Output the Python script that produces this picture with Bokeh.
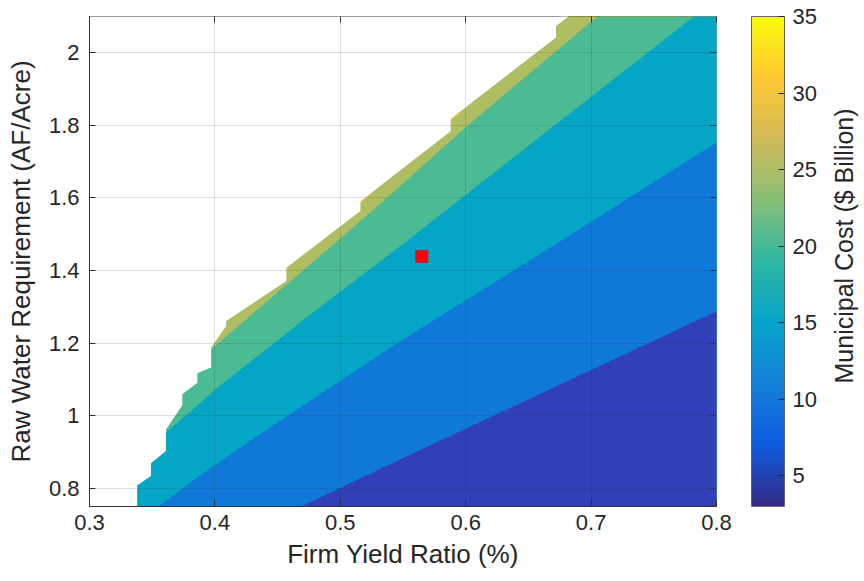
import numpy as np
from bokeh.plotting import figure
from bokeh.layouts import row
from bokeh.models import (Range1d, FixedTicker, CustomJSTickFormatter, LinearAxis, ColorBar,
                          LinearColorMapper, ColumnDataSource, Title)
from bokeh.embed import file_html
from bokeh.resources import INLINE

# ---------------- data ----------------
x_ticks = [0.3, 0.4, 0.5, 0.6, 0.7, 0.8]
y_ticks = [0.8, 1.0, 1.2, 1.4, 1.6, 1.8, 2.0]
cbar_ticks = [5, 10, 15, 20, 25, 30, 35]
x_lim = [0.3, 0.8]
y_lim = [0.75, 2.1]
cost_lim = [3, 35]

# contour levels ($ Billion) and the fill colour of each band
levels = [5, 10, 15, 20, 25, 30]
level_colors = ["#3240B7", "#1078D8", "#05A6C5", "#4CBB93", "#B0BE63", "#F5B43A"]

# left edge of the feasible region (beyond it: no solution)
frontier_x = [0.338, 0.338, 0.349, 0.349, 0.361, 0.361, 0.374, 0.374, 0.386, 0.386, 0.397, 0.397,
              0.409, 0.409, 0.457, 0.457, 0.516, 0.516, 0.588, 0.588, 0.672, 0.672, 0.682]
frontier_y = [0.750, 0.808, 0.834, 0.869, 0.903, 0.962, 1.029, 1.059, 1.091, 1.117, 1.133, 1.188,
              1.247, 1.261, 1.371, 1.408, 1.564, 1.591, 1.784, 1.818, 2.042, 2.074, 2.100]

# contour lines (lower edge of each band)
c10_x = [0.469, 0.548, 0.800]
c10_y = [0.750, 0.880, 1.288]
c15_x = [0.355, 0.390, 0.430, 0.548, 0.678, 0.800]
c15_y = [0.750, 0.840, 0.935, 1.206, 1.486, 1.753]
c20_x = [0.361, 0.4005, 0.476, 0.548, 0.782]
c20_y = [0.953, 1.073, 1.279, 1.468, 2.100]
c25_x = [0.397, 0.527, 0.604, 0.705]
c25_y = [1.183, 1.569, 1.807, 2.100]
c30_x = [0.400, 0.457, 0.516, 0.588, 0.672, 0.700]
c30_y = [1.250, 1.415, 1.585, 1.810, 2.085, 2.200]

# selected design point
opt_x = [0.565]
opt_y = [1.439]

# parula colormap anchors for the colour bar
parula_anchors = ["#352a87", "#0f5cdd", "#1481d6", "#06a4ca", "#2eb7a4",
                  "#87bf77", "#d1bb59", "#fec832", "#f9fb0e"]

# ---------------- build ----------------
def hex2rgb(h):
    h = h.lstrip("#")
    return [int(h[i:i + 2], 16) for i in (0, 2, 4)]

anc = np.array([hex2rgb(c) for c in parula_anchors], dtype=float)
t_anc = np.linspace(0, 1, len(parula_anchors))
t = np.linspace(0, 1, 256)
palette = ["#%02x%02x%02x" % tuple(int(round(np.interp(tt, t_anc, anc[:, k]))) for k in range(3)) for tt in t]

lo_x, hi_x = x_lim[0] - 0.1, x_lim[1] + 0.1
lo_y, hi_y = y_lim[0] - 0.15, y_lim[1] + 0.2

def below(xs, ys):
    return list(xs) + [hi_x, hi_x, lo_x], list(ys) + [ys[-1], lo_y, lo_y]

color_of = dict(zip(levels, level_colors))
edges = [(30, frontier_x, frontier_y), (25, c30_x, c30_y), (20, c25_x, c25_y),
         (15, c20_x, c20_y), (10, c15_x, c15_y), (5, c10_x, c10_y)]
xs, ys, cols = [], [], []
for lev, ex, ey in edges:
    px, py = below(ex, ey)
    xs.append(px); ys.append(py); cols.append(color_of[lev])
# infeasible area (white)
xs.append(list(frontier_x) + [frontier_x[-1], lo_x, lo_x, frontier_x[0]])
ys.append(list(frontier_y) + [hi_y, hi_y, lo_y, lo_y])
cols.append("#FFFFFF")
src = ColumnDataSource(dict(xs=xs, ys=ys, color=cols))

FONT = "Liberation Sans"
TXT = "#262626"
TICK_FS = "22px"
LAB_FS = "26px"
fmt = CustomJSTickFormatter(code="return tick.toFixed(1).replace(/\\.0$/, '')")
empty = CustomJSTickFormatter(code="return ''")

P_W = 820
p = figure(width=P_W, height=581, x_range=Range1d(*x_lim), y_range=Range1d(*y_lim),
           output_backend="svg", toolbar_location=None,
           min_border_left=89, min_border_right=P_W - 716, min_border_top=16, min_border_bottom=75,
           x_axis_label="Firm Yield Ratio (%)", y_axis_label="Raw Water Requirement (AF/Acre)")
p.background_fill_color = "white"
p.border_fill_color = "white"
p.outline_line_color = "#333333"
p.outline_line_width = 1

p.patches("xs", "ys", source=src, fill_color="color", line_color=None)
p.scatter(opt_x, opt_y, marker="square", size=12, fill_color="#FF0000", line_color="#B8203C", line_width=1)

for ax, tk in ((p.xaxis[0], x_ticks), (p.yaxis[0], y_ticks)):
    ax.ticker = FixedTicker(ticks=tk)
    ax.formatter = fmt
    ax.major_tick_in = 6
    ax.major_tick_out = 0
    ax.minor_tick_out = 0
    ax.minor_tick_line_color = None
    ax.axis_line_color = "#333333"
    ax.major_tick_line_color = "#333333"
    ax.major_label_text_font = FONT
    ax.major_label_text_font_size = TICK_FS
    ax.major_label_text_color = TXT
    ax.axis_label_text_font = FONT
    ax.axis_label_text_font_size = LAB_FS
    ax.axis_label_text_font_style = "normal"
    ax.axis_label_text_color = TXT
p.xaxis[0].major_label_standoff = 8
p.xaxis[0].axis_label_standoff = 6
p.yaxis[0].major_label_standoff = 10
p.yaxis[0].axis_label_standoff = 10

for loc, tk in (("above", x_ticks), ("right", y_ticks)):
    ax = LinearAxis(ticker=FixedTicker(ticks=tk), formatter=empty, major_tick_in=6, major_tick_out=0,
                    minor_tick_out=0, minor_tick_in=0,
                    minor_tick_line_color=None, axis_line_color=None, major_tick_line_color="#333333",
                    major_label_text_font_size="1px", major_label_standoff=0)
    p.add_layout(ax, loc)

p.grid.grid_line_color = "#262626"
p.grid.grid_line_alpha = 0.15
p.grid.level = "overlay"
p.xgrid.ticker = FixedTicker(ticks=x_ticks)
p.ygrid.ticker = FixedTicker(ticks=y_ticks)

mapper = LinearColorMapper(palette=palette, low=cost_lim[0], high=cost_lim[1])
cb = ColorBar(color_mapper=mapper, ticker=FixedTicker(ticks=cbar_ticks), formatter=fmt,
              width=33, height=490, location=(35, 0), padding=0, margin=0,
              bar_line_color="#666666", bar_line_width=1,
              major_tick_line_color="#262626", major_tick_in=6, major_tick_out=0,
              minor_tick_line_color=None, label_standoff=8,
              major_label_text_font=FONT, major_label_text_font_size=TICK_FS,
              major_label_text_color=TXT, background_fill_color=None, border_line_color=None)
p.add_layout(cb, "right")

# narrow companion figure that carries the colour-bar title (left title reads bottom-to-top)
R_W = 864 - P_W
r = figure(width=R_W, height=581, x_range=Range1d(0, 1), y_range=Range1d(0, 1),
           output_backend="svg", toolbar_location=None, x_axis_location=None, y_axis_location=None,
           min_border_left=R_W - 7, min_border_right=7, min_border_top=16, min_border_bottom=75)
r.outline_line_color = None
r.grid.visible = False
r.background_fill_color = "white"
r.border_fill_color = "white"
r.add_layout(Title(text="Municipal Cost ($ Billion)", align="left", offset=123, standoff=0,
                   text_font=FONT, text_font_size="25px", text_font_style="normal",
                   text_color=TXT), "left")

layout = row(p, r, spacing=0)
open("out.html", "w").write(file_html(layout, INLINE))
